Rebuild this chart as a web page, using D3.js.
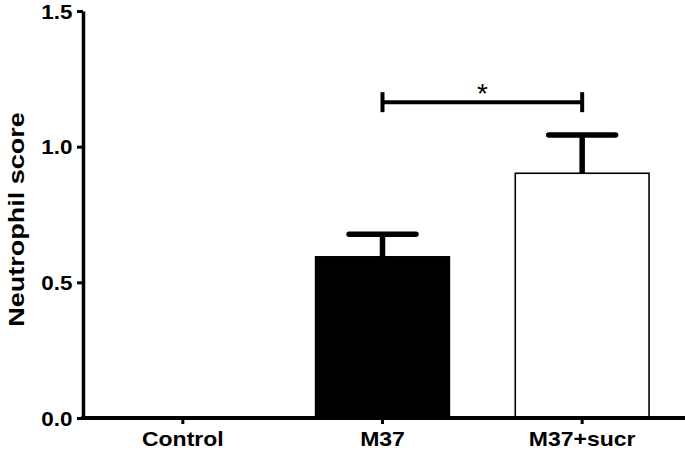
<!DOCTYPE html>
<html lang="en">
<head>
    <meta charset="UTF-8">
    <title>Neutrophil score</title>
    <script src="https://d3js.org/d3.v7.min.js"></script>
    <style>
        body {
            margin: 0;
            padding: 0;
            background: #fff;
            overflow: hidden;
        }
        text {
            font-family: "Liberation Sans", Arial, Helvetica, sans-serif;
            font-weight: bold;
            fill: #000;
        }
    </style>
</head>
<body>
    <svg id="chart" width="685" height="453"></svg>
    <script>
        // data
        const groups = ["Control", "M37", "M37+sucr"];
        const means = [0, 0.594, 0.902];
        const errors = [0, 0.083, 0.141];
        const fills = ["#fff", "#000", "#fff"];
        const yTicks = [0, 0.5, 1.0, 1.5];
        const sigPair = ["M37", "M37+sucr"];
        const sigLevel = 1.164;

        const svg = d3.select("#chart");
        const margin = {left: 83, right: 3, top: 11, bottom: 35};
        const width = 685, height = 453;
        const stretch = 1.15; // the original lettering is a bit wide

        const y = d3.scaleLinear()
            .domain([0, 1.5])
            .range([418, margin.top]);

        const x = d3.scaleBand()
            .domain(groups)
            .range([margin.left, width - margin.right])
            .paddingInner(0.33)
            .paddingOuter(0.165);

        // bars
        svg.append("g")
            .selectAll("rect")
            .data(groups)
            .join("rect")
            .attr("x", d => x(d))
            .attr("y", (d, i) => y(means[i]))
            .attr("width", x.bandwidth())
            .attr("height", (d, i) => y(0) - y(means[i]))
            .attr("fill", (d, i) => fills[i])
            .attr("stroke", "#000")
            .attr("stroke-width", (d, i) => means[i] > 0 ? 1.6 : 0);

        // error bars (upper only)
        const eb = svg.append("g")
            .attr("stroke", "#000");
        groups.forEach((g, i) => {
            if (errors[i] <= 0) return;
            const cx = x(g) + x.bandwidth() / 2;
            eb.append("line")
                .attr("x1", cx).attr("x2", cx)
                .attr("y1", y(means[i])).attr("y2", y(means[i] + errors[i]))
                .attr("stroke-width", 5.5);
            eb.append("line")
                .attr("x1", cx - x.bandwidth() / 4).attr("x2", cx + x.bandwidth() / 4)
                .attr("y1", y(means[i] + errors[i])).attr("y2", y(means[i] + errors[i]))
                .attr("stroke-width", 5.5)
                .attr("stroke-linecap", "round");
        });

        // significance bracket
        const sx1 = x(sigPair[0]) + x.bandwidth() / 2;
        const sx2 = x(sigPair[1]) + x.bandwidth() / 2;
        const sy = y(sigLevel);
        const sig = svg.append("g").attr("stroke", "#000");
        sig.append("line")
            .attr("x1", sx1).attr("x2", sx2)
            .attr("y1", sy).attr("y2", sy)
            .attr("stroke-width", 4);
        [sx1, sx2].forEach(sx => {
            sig.append("line")
                .attr("x1", sx).attr("x2", sx)
                .attr("y1", sy - 10).attr("y2", sy + 10)
                .attr("stroke-width", 4);
        });
        svg.append("text")
            .attr("x", (sx1 + sx2) / 2)
            .attr("y", sy + 1)
            .attr("text-anchor", "middle")
            .style("font-size", "28px")
            .style("font-weight", "normal")
            .text("*");

        // y axis
        const yAxis = svg.append("g")
            .attr("transform", `translate(${margin.left},0)`)
            .call(d3.axisLeft(y).tickValues(yTicks).tickFormat(d3.format(".1f")).tickSize(6).tickSizeOuter(0));
        yAxis.select(".domain").attr("stroke-width", 3.5);
        yAxis.selectAll(".tick line").attr("stroke-width", 3);
        yAxis.selectAll(".tick text")
            .style("font-size", "19.5px")
            .attr("x", -10.5 / stretch)
            .attr("dy", "0.36em")
            .attr("transform", `scale(${stretch},1)`);

        // x axis
        const xAxis = svg.append("g")
            .attr("transform", `translate(0,${y(0)})`)
            .call(d3.axisBottom(x).tickSize(6).tickSizeOuter(0));
        xAxis.select(".domain")
            .attr("d", `M${margin.left - 1.75},0H${width}`)
            .attr("stroke-width", 4);
        xAxis.selectAll(".tick line").attr("stroke-width", 3);
        xAxis.selectAll(".tick text")
            .style("font-size", "20px")
            .attr("y", 28)
            .attr("dy", 0)
            .attr("x", 0)
            .attr("transform", `scale(${stretch},1)`);

        // y title
        svg.append("text")
            .attr("transform", `translate(23.5,${(y(0) + y(1.5)) / 2 + 5}) rotate(-90) scale(1.2,1)`)
            .attr("text-anchor", "middle")
            .style("font-size", "22.5px")
            .text("Neutrophil score");
    </script>
</body>
</html>
